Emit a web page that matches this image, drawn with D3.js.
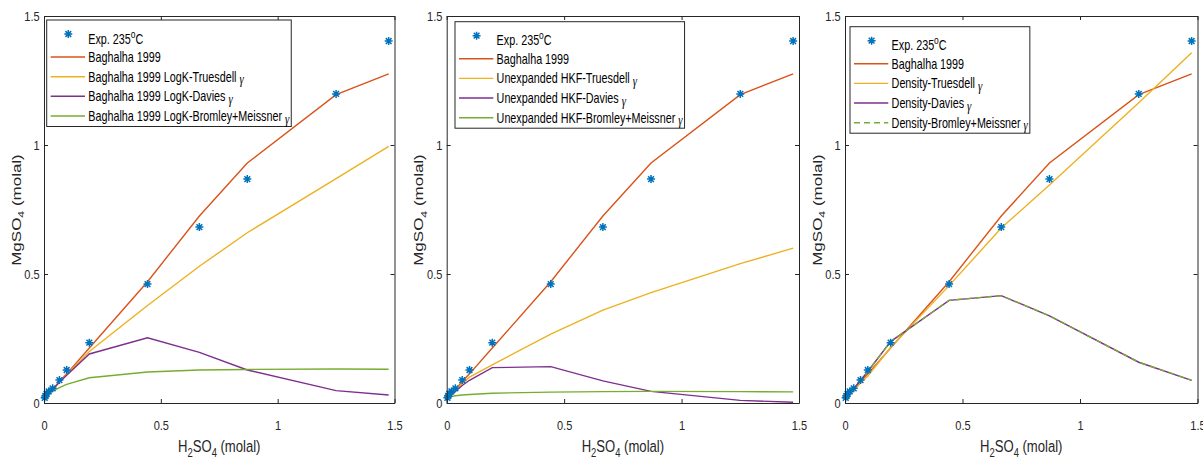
<!DOCTYPE html>
<html>
<head>
<meta charset="utf-8">
<script src="https://cdn.jsdelivr.net/npm/d3@7"></script>
<style>
  body { margin: 0; background: #fff; }
  svg { display: block; }
</style>
</head>
<body>
<svg id="chart" width="1203" height="459"></svg>
<script>
'use strict';

// H2SO4 molality of each experiment (also where the models were evaluated)
const h2so4 = [0.003, 0.006, 0.011, 0.02, 0.037, 0.066, 0.097, 0.194, 0.443, 0.665, 0.87, 1.25, 1.475];
// measured MgSO4 solubility at 235 C
const expMgso4 = [0.02, 0.027, 0.035, 0.045, 0.057, 0.089, 0.128, 0.234, 0.461, 0.682, 0.868, 1.198, 1.403];
// Baghalha 1999 model (same curve in all three panels)
const baghalha = [0.018, 0.021, 0.026, 0.035, 0.052, 0.083, 0.113, 0.213, 0.47, 0.725, 0.93, 1.195, 1.276];

// panel 1: Baghalha 1999 LogK
const logkTruesdell = [0.018, 0.021, 0.026, 0.035, 0.052, 0.082, 0.11, 0.2, 0.378, 0.53, 0.66, 0.87, 0.995];
const logkDavies = [0.018, 0.021, 0.026, 0.035, 0.052, 0.08, 0.108, 0.19, 0.253, 0.196, 0.128, 0.048, 0.031];
const logkBromley = [0.024, 0.027, 0.031, 0.037, 0.046, 0.06, 0.072, 0.098, 0.12, 0.128, 0.13, 0.132, 0.131];

// panel 2: unexpanded HKF
const hkfTruesdell = [0.018, 0.021, 0.026, 0.034, 0.05, 0.075, 0.1, 0.148, 0.267, 0.36, 0.428, 0.54, 0.6];
const hkfDavies = [0.018, 0.021, 0.025, 0.032, 0.045, 0.068, 0.088, 0.137, 0.141, 0.086, 0.045, 0.01, 0.003];
const hkfBromley = [0.018, 0.02, 0.022, 0.025, 0.028, 0.031, 0.033, 0.038, 0.042, 0.044, 0.045, 0.044, 0.043];

// panel 3: density model
const densTruesdell = [0.018, 0.021, 0.025, 0.033, 0.048, 0.077, 0.105, 0.215, 0.455, 0.678, 0.845, 1.164, 1.358];
const densDavies = [0.022, 0.025, 0.03, 0.038, 0.055, 0.088, 0.122, 0.238, 0.398, 0.416, 0.338, 0.158, 0.088];
const densBromley = [0.022, 0.025, 0.03, 0.038, 0.055, 0.088, 0.122, 0.238, 0.398, 0.416, 0.338, 0.158, 0.088];

const axisTicks = [0, 0.5, 1, 1.5];
const tickLabels = ['0', '0.5', '1', '1.5'];

const legend1 = ['Baghalha 1999', 'Baghalha 1999 LogK-Truesdell γ', 'Baghalha 1999 LogK-Davies γ', 'Baghalha 1999 LogK-Bromley+Meissner γ'];
const legend2 = ['Baghalha 1999', 'Unexpanded HKF-Truesdell γ', 'Unexpanded HKF-Davies γ', 'Unexpanded HKF-Bromley+Meissner γ'];
const legend3 = ['Baghalha 1999', 'Density-Truesdell γ', 'Density-Davies γ', 'Density-Bromley+Meissner γ'];

// MATLAB default colours
const col = { exp: '#0072BD', bag: '#D95319', tru: '#EDB120', dav: '#7E2F8E', bro: '#77AC30' };
const ink = '#262626';
const font = "'Liberation Sans', Arial, sans-serif";
const SX = 0.77; // the original figure is squeezed horizontally

const panels = [
  { left: 44, right: 394.5, lgX: 46.7, lgY: 20, labels: legend1,
    series: [baghalha, logkTruesdell, logkDavies, logkBromley], dash: [null, null, null, null] },
  { left: 446.7, right: 799, lgX: 455, lgY: 21.7, labels: legend2,
    series: [baghalha, hkfTruesdell, hkfDavies, hkfBromley], dash: [null, null, null, null] },
  { left: 845, right: 1197.5, lgX: 850, lgY: 26.7, labels: legend3,
    series: [baghalha, densTruesdell, densDavies, densBromley], dash: [null, null, null, '6,4'] },
];
const lineCols = [col.bag, col.tru, col.dav, col.bro];
const yTop = 16, yBottom = 403;

const svg = d3.select('#chart');
svg.append('rect').attr('width', 1203).attr('height', 459).attr('fill', '#fff');

// asterisk marker like MATLAB '*'
const star = (r) => {
  const q = r * 0.72;
  return `M${-r},0H${r}M0,${-r}V${r}M${-q},${-q}L${q},${q}M${-q},${q}L${q},${-q}`;
};

// text with subscripts: parts = [[str, isSub], ...]
const subText = (g, parts, size) => {
  const t = g.append('text').attr('font-family', font).attr('font-size', size).attr('fill', ink);
  let low = false;
  parts.forEach(([s, sub]) => {
    const dy = sub ? (low ? 0 : 5) : (low ? -5 : 0);
    low = !!sub;
    t.append('tspan')
      .attr('font-size', sub ? size * 0.72 : size)
      .attr('dy', dy)
      .text(s);
  });
  return t;
};

// legend label, gamma in italic serif like the TeX interpreter
const legendText = (g, label) => {
  const t = g.append('text').attr('font-family', font).attr('font-size', 14).attr('fill', '#000');
  if (label.endsWith(' γ')) {
    t.append('tspan').text(label.slice(0, -1));
    t.append('tspan').attr('font-family', "'Liberation Serif', serif").attr('font-style', 'italic')
      .attr('font-size', 14).attr('dy', 2.5).text('γ');
  } else {
    t.text(label);
  }
  return t;
};

panels.forEach((p) => {
  const x = d3.scaleLinear().domain([0, 1.5]).range([p.left, p.right]);
  const y = d3.scaleLinear().domain([0, 1.5]).range([yBottom, yTop]);
  const g = svg.append('g');

  // plotted model curves
  const line = d3.line().x((d) => x(d[0])).y((d) => y(d[1]));
  p.series.forEach((s, i) => {
    g.append('path')
      .attr('d', line(d3.zip(h2so4, s)))
      .attr('fill', 'none')
      .attr('stroke', lineCols[i])
      .attr('stroke-width', 1.4)
      .attr('stroke-dasharray', p.dash[i]);
  });

  // experimental points
  g.append('g')
    .selectAll('path')
    .data(d3.zip(h2so4, expMgso4))
    .join('path')
    .attr('transform', (d) => `translate(${x(d[0])},${y(d[1])})`)
    .attr('d', star(4))
    .attr('stroke', col.exp)
    .attr('stroke-width', 1.5)
    .attr('fill', 'none');

  // axes, ticks pointing inward on all four sides
  const styleAx = (sel) => {
    sel.selectAll('path,line').attr('stroke', ink);
    sel.selectAll('text').attr('fill', ink).attr('font-family', font).attr('font-size', 12.5);
  };
  const fmt = (d) => tickLabels[axisTicks.indexOf(d)];
  g.append('g').attr('transform', `translate(0,${yBottom})`)
    .call(d3.axisBottom(x).tickValues(axisTicks).tickFormat(fmt).tickSize(-4).tickSizeOuter(0).tickPadding(18))
    .call(styleAx)
    .call((a) => a.selectAll('text').attr('dy', 0).attr('y', 27).attr('transform', 'scale(0.88,1)'));
  g.append('g').attr('transform', `translate(0,${yTop})`)
    .call(d3.axisTop(x).tickValues(axisTicks).tickFormat('').tickSize(-4).tickSizeOuter(0))
    .call(styleAx);
  g.append('g').attr('transform', `translate(${p.left},0)`)
    .call(d3.axisLeft(y).tickValues(axisTicks).tickFormat(fmt).tickSize(-4).tickSizeOuter(0).tickPadding(5))
    .call(styleAx)
    .call((a) => a.selectAll('text').attr('transform', 'scale(0.88,1)'));
  g.append('g').attr('transform', `translate(${p.right},0)`)
    .call(d3.axisRight(y).tickValues(axisTicks).tickFormat('').tickSize(-4).tickSizeOuter(0))
    .call(styleAx);

  // axis titles (the y title keeps its length, only its thickness is squeezed)
  const xl = g.append('g').attr('transform', `translate(${(p.left + p.right) / 2},451.5) scale(${SX},1)`);
  subText(xl, [['H', 0], ['2', 1], ['SO', 0], ['4', 1], [' (molal)', 0]], 17).attr('text-anchor', 'middle');
  const yl = g.append('g').attr('transform', `translate(${p.left - 23.5},210) rotate(-90) scale(1,${SX})`);
  subText(yl, [['MgSO', 0], ['4', 1], [' (molal)', 0]], 17).attr('text-anchor', 'middle');

  // legend
  const lg = g.append('g').attr('transform', `translate(${p.lgX},${p.lgY})`);
  const box = lg.append('rect').attr('fill', '#fff').attr('stroke', ink).attr('stroke-width', 1);
  const rowY = [37, 56.7, 76.3, 96];
  let maxW = 0;

  lg.append('path').attr('transform', 'translate(21.6,14)').attr('d', star(4))
    .attr('stroke', col.exp).attr('stroke-width', 1.5).attr('fill', 'none');
  const eg = lg.append('g').attr('transform', `translate(41.6,23.5) scale(${SX},1)`);
  const et = eg.append('text').attr('font-family', font).attr('font-size', 14).attr('fill', '#000');
  et.append('tspan').text('Exp. 235');
  et.append('tspan').attr('font-size', 11).attr('dy', -6).text('o');
  et.append('tspan').attr('dy', 6).text('C');
  maxW = Math.max(maxW, et.node().getComputedTextLength() * SX);

  p.labels.forEach((lab, i) => {
    lg.append('line')
      .attr('x1', 4).attr('x2', 38.3).attr('y1', rowY[i]).attr('y2', rowY[i])
      .attr('stroke', lineCols[i]).attr('stroke-width', 1.4)
      .attr('stroke-dasharray', p.dash[i]);
    const tg = lg.append('g').attr('transform', `translate(41.6,${rowY[i] + 5}) scale(${SX},1)`);
    const t = legendText(tg, lab);
    maxW = Math.max(maxW, t.node().getComputedTextLength() * SX);
  });
  box.attr('width', 41.6 + maxW + 2).attr('height', 106.5);
});
</script>
</body>
</html>
